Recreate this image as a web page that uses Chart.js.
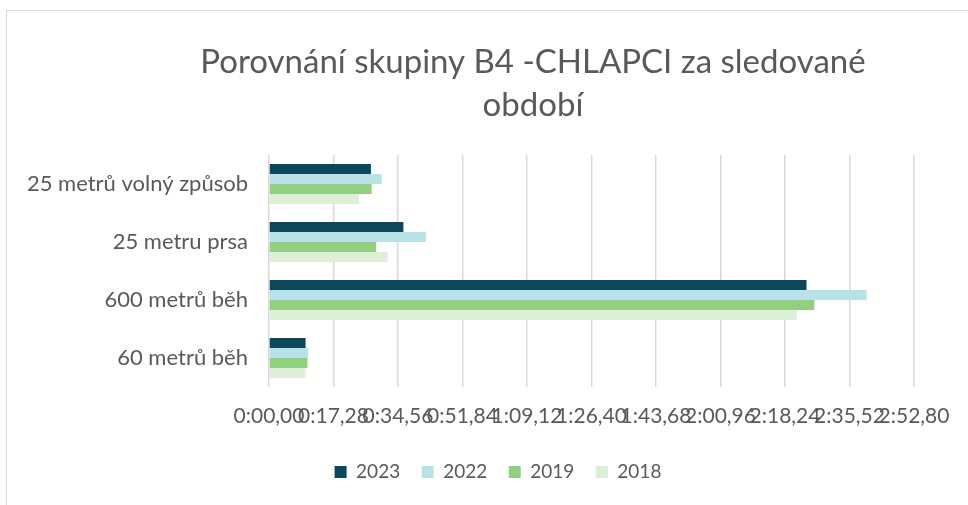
<!DOCTYPE html>
<html lang="cs">
<head>
<meta charset="utf-8">
<title>Porovnání skupiny B4 -CHLAPCI</title>
<script src="https://cdn.jsdelivr.net/npm/chart.js@4/dist/chart.umd.min.js"></script>
<style>
  html, body { margin:0; padding:0; background:#fff; }
  #wrap { position:relative; width:968px; height:505px; overflow:hidden; }
  #frame { position:absolute; left:6px; top:10px; width:980px; height:520px;
           border-left:1.5px solid #d9d9d9; border-top:1.5px solid #d9d9d9; }
  #chart { position:absolute; left:0; top:0; }
</style>
</head>
<body>
<div id="wrap">
  <div id="frame"></div>
  <canvas id="chart" width="968" height="505"></canvas>
</div>
<script>
// Data (časy v sekundách)
const categories = ['25 metrů volný způsob', '25 metru prsa', '600 metrů běh', '60 metrů běh'];
const seriesNames = ['2023', '2022', '2019', '2018'];
const values2023 = [27.3, 36.0, 144.0, 9.8];
const values2022 = [30.2, 42.0, 160.1, 10.5];
const values2019 = [27.5, 28.7, 146.1, 10.3];
const values2018 = [24.1, 31.8, 141.4, 9.8];
const tickValues = [0, 17.28, 34.56, 51.84, 69.12, 86.40, 103.68, 120.96, 138.24, 155.52, 172.80];
const tickLabels = ['0:00,00','0:17,28','0:34,56','0:51,84','1:09,12','1:26,40','1:43,68','2:00,96','2:18,24','2:35,52','2:52,80'];

const COLORS = ['#0D475A', '#B9E1E8', '#92D07F', '#DDF0D7'];
const TEXT = '#595959';
const FONT = 'Lato, "Open Sans", sans-serif';

const allValues = [values2023, values2022, values2019, values2018];

// Titel und Legende horizontal verschieben (wie im Original)
const shiftBoxes = {
  id:'shiftBoxes',
  afterLayout(chart){
    const t = chart.titleBlock, lg = chart.legend;
    if(t){ t.left += 76; t.right += 76; }
    if(lg){ lg.left += 41; lg.right += 41; }
  }
};

new Chart(document.getElementById('chart'), {
  type:'bar',
  data:{
    labels: categories,
    datasets: seriesNames.map((name,i)=>({
      label: name,
      data: allValues[i],
      backgroundColor: COLORS[i],
      borderWidth: 0,
      categoryPercentage: 0.69,
      barPercentage: 1
    }))
  },
  options:{
    indexAxis:'y',
    responsive:false,
    animation:false,
    devicePixelRatio:1,
    layout:{ padding:{ top:0, right:54, bottom:13.5, left:0 } },
    plugins:{
      title:{
        display:true,
        text:['Porovnání skupiny B4 -CHLAPCI za sledované', 'období'],
        color:TEXT,
        font:{ family:FONT, size:33, weight:'normal', lineHeight:43/33 },
        padding:{ top:40.5, bottom:28.5 }
      },
      legend:{
        position:'bottom',
        labels:{
          color:TEXT,
          font:{ family:FONT, size:19 },
          boxWidth:12,
          boxHeight:12,
          padding:21.5
        }
      },
      tooltip:{ enabled:false }
    },
    scales:{
      x:{
        min:0,
        max:172.8,
        afterBuildTicks: s => { s.ticks = tickValues.map(v=>({value:v})); },
        afterFit: s => { s.height = 54; },
        grid:{ color:'#d9d9d9', lineWidth:1.5, drawTicks:false },
        border:{ display:false },
        ticks:{
          autoSkip:false,
          maxRotation:0,
          minRotation:0,
          padding:17,
          color:TEXT,
          font:{ family:FONT, size:21 },
          callback:(v,i)=> tickLabels[i]
        }
      },
      y:{
        afterFit: s => { s.width = 269; },
        grid:{ display:false, drawTicks:false },
        border:{ display:false },
        ticks:{
          padding:21,
          color:TEXT,
          font:{ family:FONT, size:22 }
        }
      }
    }
  },
  plugins:[shiftBoxes]
});
</script>
</body>
</html>
